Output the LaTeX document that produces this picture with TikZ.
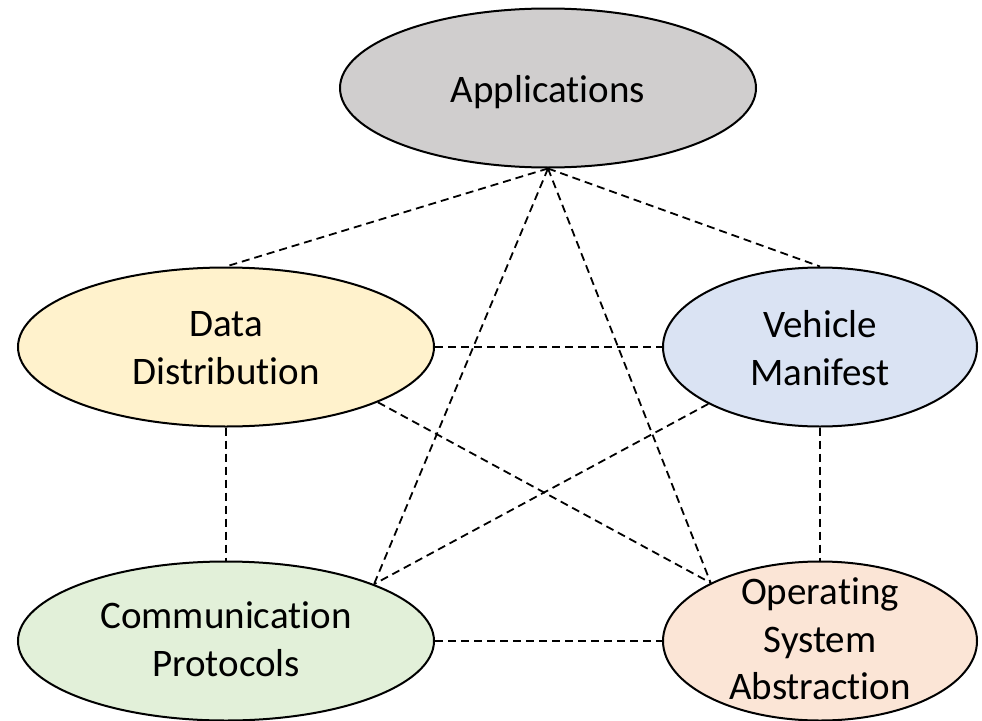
\documentclass[tikz,border=0pt]{standalone}
\usepackage{fontspec}
\setmainfont{Carlito}[Ligatures=NoCommon]
\usetikzlibrary{shapes.geometric}
\definecolor{appgray}{HTML}{D0CECE}
\definecolor{ddyellow}{HTML}{FFF2CC}
\definecolor{vmblue}{HTML}{DAE3F3}
\definecolor{cpgreen}{HTML}{E2F0D9}
\definecolor{osaorange}{HTML}{FBE5D6}
\tikzset{
  blob/.style={ellipse, draw=black, line width=2pt, inner sep=0pt},
  wide/.style={minimum width=416pt, minimum height=159pt},
  narrow/.style={minimum width=314pt, minimum height=159pt},
  lbl/.style={align=center, font=\fontsize{39}{47.5}\selectfont, inner sep=0pt},
  link/.style={line width=1.8pt, dash pattern=on 8pt off 5pt},
}
\begin{document}
\begin{tikzpicture}[x=1pt,y=-1pt]
\useasboundingbox (0,0) rectangle (982,720);
\node[blob, wide, fill=appgray] (app) at (548,88) {};
\node[blob, wide, fill=ddyellow] (dd) at (226,347) {};
\node[blob, narrow, fill=vmblue] (vm) at (820,347) {};
\node[blob, wide, fill=cpgreen] (cp) at (226,641) {};
\node[blob, narrow, fill=osaorange] (osa) at (820,641) {};
\node[lbl] (appt) at ([yshift=-4]app.center) {Applications};
\node[lbl] (ddt) at ([yshift=-1]dd.center) {Data\\Distribution};
\node[lbl] (vmt) at ([yshift=-1]vm.center) {Vehicle\\Manifest};
\node[lbl] (cpt) at ([yshift=2]cp.center) {Communication\\Protocols};
\node[lbl] (osat) at ([yshift=2]osa.center) {Operating\\System\\Abstraction};
\draw[link] (app.south) -- (dd.north);
\draw[link] (app.south) -- (vm.north);
\draw[link] (app.south) -- (cp.21.7);
\draw[link] (app.south) -- (osa.152.8);
\draw[link] (dd.east) -- (vm.west);
\draw[link] (dd.-20.8) -- (osa.152.8);
\draw[link] (vm.207.2) -- (cp.21.7);
\draw[link] (dd.south) -- (cp.north);
\draw[link] (vm.south) -- (osa.north);
\draw[link] (cp.east) -- (osa.west);
\end{tikzpicture}
\end{document}
